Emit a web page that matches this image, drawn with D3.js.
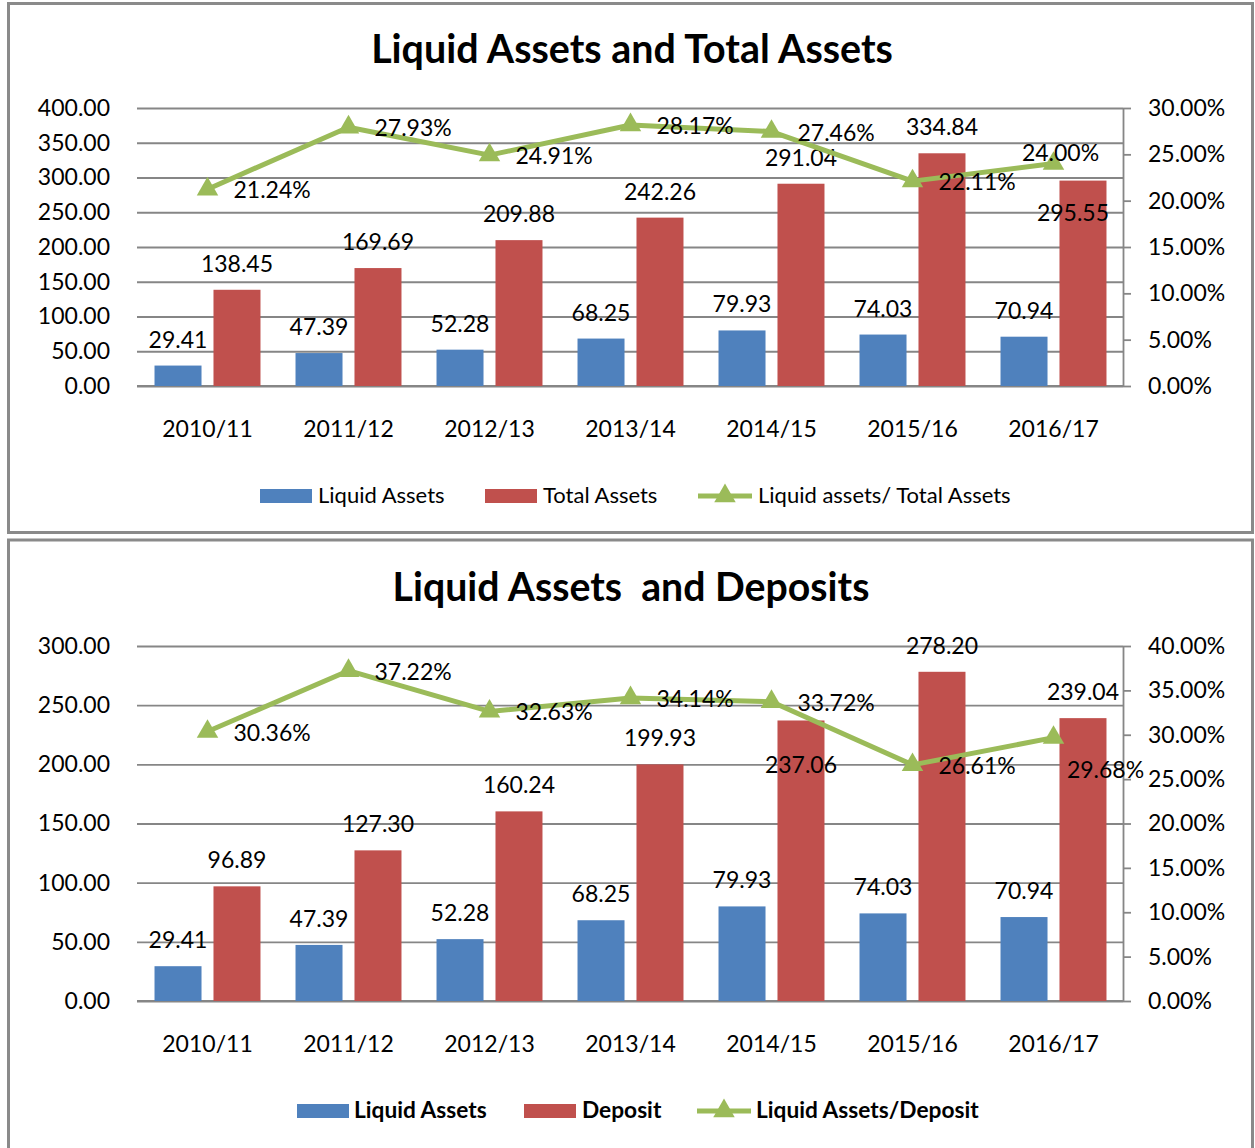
<!DOCTYPE html>
<html>
<head>
<meta charset="utf-8">
<script src="https://cdn.jsdelivr.net/npm/d3@7"></script>
<style>
  html, body { margin: 0; padding: 0; background: #fff; }
  svg { display: block; }
  text { font-family: Lato, "Open Sans", sans-serif; fill: #000; white-space: pre; }
</style>
</head>
<body>
<svg id="chart" width="1255" height="1148"></svg>
<script>
// ---------- DATA ----------
const categories = ["2010/11", "2011/12", "2012/13", "2013/14", "2014/15", "2015/16", "2016/17"];

const liquidAssets = [29.41, 47.39, 52.28, 68.25, 79.93, 74.03, 70.94];
const totalAssets = [138.45, 169.69, 209.88, 242.26, 291.04, 334.84, 295.55];
const liquidToTotal = [0.2124, 0.2793, 0.2491, 0.2817, 0.2746, 0.2211, 0.2400];

const deposits = [96.89, 127.30, 160.24, 199.93, 237.06, 278.20, 239.04];
const liquidToDeposit = [0.3036, 0.3722, 0.3263, 0.3414, 0.3372, 0.2661, 0.2968];

const topLeftTicks = [0, 50, 100, 150, 200, 250, 300, 350, 400];
const topRightTicks = [0, 0.05, 0.10, 0.15, 0.20, 0.25, 0.30];
const bottomLeftTicks = [0, 50, 100, 150, 200, 250, 300];
const bottomRightTicks = [0, 0.05, 0.10, 0.15, 0.20, 0.25, 0.30, 0.35, 0.40];

const topTitle = "Liquid Assets and Total Assets";
const bottomTitle = "Liquid Assets  and Deposits";
const topLegend = ["Liquid Assets", "Total Assets", "Liquid assets/ Total Assets"];
const bottomLegend = ["Liquid Assets", "Deposit", "Liquid Assets/Deposit"];

// label placements (style, not data)
const topBar2Placement = ["above", "above", "above", "above", "above", "above", "inside"];
const topLinePlacement = ["right", "right", "right", "right", "right", "right", "above"];
const bottomBar2Placement = ["above", "above", "above", "above", "inside", "above", "above"];
const bottomLinePlacement = ["right", "right", "right", "right", "right", "right", "belowRight"];

// ---------- STYLE ----------
const BLUE = "#4F81BD", RED = "#C0504D", GREEN = "#9BBB59", GRID = "#868686";
const FONT = 23;

const svg = d3.select("#chart");

// panel frames
svg.append("rect").attr("x", 8.5).attr("y", 3.5).attr("width", 1244).attr("height", 529)
  .attr("fill", "#fff").attr("stroke", "#8a8a8a").attr("stroke-width", 3);
svg.append("rect").attr("x", 8.5).attr("y", 540).attr("width", 1244).attr("height", 620)
  .attr("fill", "#fff").attr("stroke", "#8a8a8a").attr("stroke-width", 3);

function fitText(sel, targetWidth) {
  const w = sel.node().getComputedTextLength();
  const fs = parseFloat(sel.attr("font-size"));
  sel.attr("font-size", fs * targetWidth / w);
}

function drawPanel(cfg) {
  const g = svg.append("g");
  const x = d3.scaleBand().domain(categories).range([137, 1124]);
  const xs = d3.scaleBand().domain([0, 1]).range([0, x.bandwidth()])
    .paddingInner(0.203).paddingOuter(0.297);
  const yL = d3.scaleLinear().domain([0, cfg.leftMax]).range([cfg.y0, cfg.y1]);
  const yR = d3.scaleLinear().domain([0, cfg.rightMax]).range([cfg.y0, cfg.y1]);

  // title
  const t = g.append("text").attr("x", cfg.titleX).attr("y", cfg.titleY)
    .attr("text-anchor", "middle").attr("font-weight", "bold").attr("font-size", 36)
    .text(cfg.title);
  fitText(t, cfg.titleW);

  // gridlines + left axis
  const leftAxis = d3.axisLeft(yL).tickValues(cfg.leftTicks).tickFormat(d3.format(".2f"))
    .tickSize(-(1123 - 137)).tickPadding(27);
  const la = g.append("g").attr("transform", "translate(137,0)").call(leftAxis);
  la.select(".domain").remove();
  la.selectAll(".tick line").attr("stroke", GRID).attr("stroke-width", 1.8);
  la.selectAll(".tick text").attr("font-size", FONT).attr("font-family", "Lato").attr("fill", "#000");

  // right axis
  const rightAxis = d3.axisRight(yR).tickValues(cfg.rightTicks).tickFormat(d3.format(".2%"))
    .tickSizeInner(8).tickSizeOuter(0).tickPadding(17);
  const ra = g.append("g").attr("transform", "translate(1123,0)").call(rightAxis);
  ra.select(".domain").attr("stroke", GRID).attr("stroke-width", 1.8);
  ra.selectAll(".tick line").attr("stroke", GRID).attr("stroke-width", 1.8);
  ra.selectAll(".tick text").attr("font-size", FONT).attr("font-family", "Lato").attr("fill", "#000");

  // bottom axis line (category axis)
  g.append("line").attr("x1", 137).attr("x2", 1123).attr("y1", cfg.y0).attr("y2", cfg.y0)
    .attr("stroke", GRID).attr("stroke-width", 1.8);

  // category labels
  g.selectAll(".cat").data(categories).join("text")
    .attr("x", d => x(d) + x.bandwidth() / 2).attr("y", cfg.y0 + 51)
    .attr("text-anchor", "middle").attr("font-size", FONT).text(d => d);

  // bars
  const series = [cfg.bar1, cfg.bar2];
  const colors = [BLUE, RED];
  series.forEach((vals, si) => {
    g.selectAll(".bar" + si).data(vals).join("rect")
      .attr("x", (d, i) => x(categories[i]) + xs(si))
      .attr("width", xs.bandwidth())
      .attr("y", d => yL(d))
      .attr("height", d => cfg.y0 - yL(d))
      .attr("fill", colors[si]);
  });

  // bar labels
  series.forEach((vals, si) => {
    g.selectAll(".bl" + si).data(vals).join("text")
      .attr("x", (d, i) => {
        const cx = x(categories[i]) + xs(si) + xs.bandwidth() / 2;
        const p = si === 1 ? cfg.bar2Placement[i] : "above";
        return cx + (p === "inside" ? cfg.insideDx : 0);
      })
      .attr("y", (d, i) => {
        const p = si === 1 ? cfg.bar2Placement[i] : "above";
        return yL(d) + (p === "inside" ? cfg.insideDy : -26) + 8;
      })
      .attr("text-anchor", "middle").attr("font-size", FONT)
      .text(d => d3.format(".2f")(d));
  });

  // ratio line
  const line = d3.line().x((d, i) => x(categories[i]) + x.bandwidth() / 2).y(d => yR(d));
  g.append("path").datum(cfg.ratio).attr("d", line).attr("fill", "none")
    .attr("stroke", GREEN).attr("stroke-width", 5).attr("stroke-linejoin", "round");
  const tri = d3.symbol().type(d3.symbolTriangle).size(200);
  g.selectAll(".mk").data(cfg.ratio).join("path")
    .attr("d", tri)
    .attr("transform", (d, i) => `translate(${x(categories[i]) + x.bandwidth() / 2},${yR(d)})`)
    .attr("fill", GREEN);

  // ratio labels
  g.selectAll(".rl").data(cfg.ratio).join("text")
    .attr("x", (d, i) => {
      const px = x(categories[i]) + x.bandwidth() / 2;
      const p = cfg.linePlacement[i];
      if (p === "right") return px + 26;
      if (p === "above") return px + 7;
      return px + 52;
    })
    .attr("y", (d, i) => {
      const py = yR(d);
      const p = cfg.linePlacement[i];
      if (p === "right") return py + 1 + 8;
      if (p === "above") return py - 11 + 8;
      return py + 32 + 8;
    })
    .attr("text-anchor", (d, i) => cfg.linePlacement[i] === "right" ? "start" : "middle")
    .attr("font-size", FONT)
    .text(d => d3.format(".2%")(d));

  // legend
  const L = cfg.legend;
  const ly = cfg.legendY;
  g.append("rect").attr("x", L.x[0]).attr("y", ly - 7).attr("width", 52).attr("height", 14).attr("fill", BLUE);
  g.append("rect").attr("x", L.x[1]).attr("y", ly - 7).attr("width", 52).attr("height", 14).attr("fill", RED);
  g.append("line").attr("x1", L.x[2]).attr("x2", L.x[2] + 54).attr("y1", ly).attr("y2", ly)
    .attr("stroke", GREEN).attr("stroke-width", 5);
  g.append("path").attr("d", tri).attr("transform", `translate(${L.x[2] + 27},${ly})`).attr("fill", GREEN);
  L.labels.forEach((lab, i) => {
    g.append("text").attr("x", L.tx[i]).attr("y", ly + 7).attr("font-size", cfg.legendFont)
      .attr("font-weight", cfg.legendBold ? "bold" : "normal").text(lab);
  });
}

drawPanel({
  title: topTitle, titleX: 632, titleY: 63, titleW: 522,
  leftMax: 400, rightMax: 0.30, y0: 386, y1: 108,
  leftTicks: topLeftTicks, rightTicks: topRightTicks,
  bar1: liquidAssets, bar2: totalAssets, ratio: liquidToTotal,
  bar2Placement: topBar2Placement, linePlacement: topLinePlacement,
  insideDx: -10, insideDy: 32,
  legendY: 496, legendFont: 22, legendBold: false,
  legend: { x: [260, 485, 698], tx: [318, 543, 758], labels: topLegend }
});

drawPanel({
  title: bottomTitle, titleX: 631, titleY: 601, titleW: 477,
  leftMax: 300, rightMax: 0.40, y0: 1001, y1: 646,
  leftTicks: bottomLeftTicks, rightTicks: bottomRightTicks,
  bar1: liquidAssets, bar2: deposits, ratio: liquidToDeposit,
  bar2Placement: bottomBar2Placement, linePlacement: bottomLinePlacement,
  insideDx: 0, insideDy: 45,
  legendY: 1111, legendFont: 22.7, legendBold: true,
  legend: { x: [297, 524, 697], tx: [354, 582, 756], labels: bottomLegend }
});
</script>
</body>
</html>
